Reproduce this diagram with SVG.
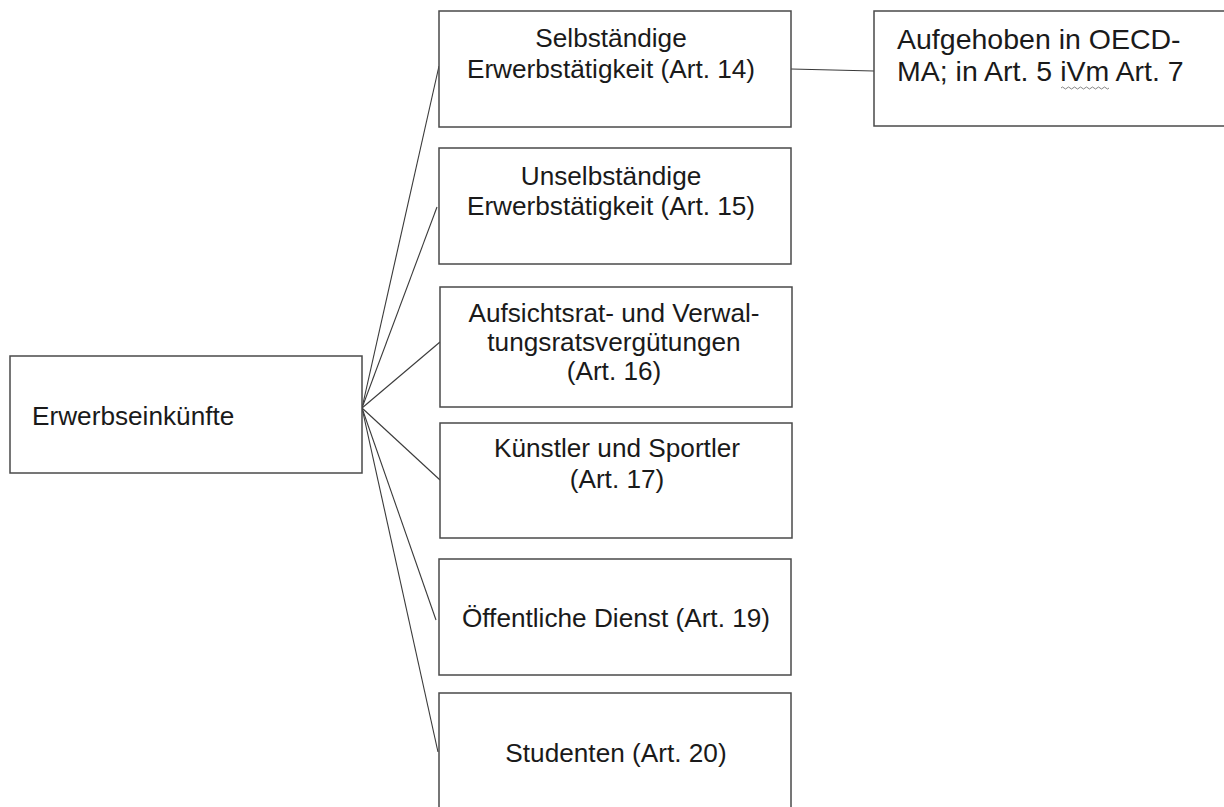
<svg xmlns="http://www.w3.org/2000/svg" width="1224" height="807" viewBox="0 0 1224 807">
<style>
  .box { fill: #ffffff; stroke: #4a4a4a; stroke-width: 1.5; }
  .conn { stroke: #3a3a3a; stroke-width: 1.1; fill: none; }
  .t { font-family: "Liberation Sans", Arial, sans-serif; font-size: 26.2px; fill: #1a1a1a; }
  .c { text-anchor: middle; }
  .big { font-size: 28.5px; }
</style>
<rect width="1224" height="807" fill="#ffffff"/>
<g id="connectors">
  <line class="conn" x1="362" y1="408" x2="439" y2="66"/>
  <line class="conn" x1="362" y1="408" x2="437" y2="207"/>
  <line class="conn" x1="362" y1="408" x2="440" y2="342"/>
  <line class="conn" x1="362" y1="408" x2="440" y2="480"/>
  <line class="conn" x1="362" y1="408" x2="436" y2="620"/>
  <line class="conn" x1="362" y1="408" x2="438" y2="752"/>
  <line class="conn" x1="791" y1="69" x2="874" y2="71"/>
</g>
<g id="n-erwerbseinkuenfte">
  <rect class="box" x="10" y="356" width="352" height="117"/>
  <text class="t" x="32" y="425">Erwerbseinkünfte</text>
</g>
<g id="n-art14">
  <rect class="box" x="439" y="11" width="352" height="116"/>
  <text class="t c" x="611" y="46.5">Selbständige</text>
  <text class="t c" x="611" y="77.5">Erwerbstätigkeit (Art. 14)</text>
</g>
<g id="n-oecd">
  <rect class="box" x="874" y="11" width="370" height="115"/>
  <text class="t big" x="897" y="49">Aufgehoben in OECD-</text>
  <text class="t big" x="897" y="81">MA; in Art. 5 iVm Art. 7</text>
  <path d="M1061 88 q1.5 -2 3 0 t3 0 t3 0 t3 0 t3 0 t3 0 t3 0 t3 0 t3 0 t3 0 t3 0 t3 0 t3 0 t3 0 t3 0 t3 0" fill="none" stroke="#777" stroke-width="0.9"/>
</g>
<g id="n-art15">
  <rect class="box" x="439" y="148" width="352" height="116"/>
  <text class="t c" x="611" y="185">Unselbständige</text>
  <text class="t c" x="611" y="215">Erwerbstätigkeit (Art. 15)</text>
</g>
<g id="n-art16">
  <rect class="box" x="440" y="287" width="352" height="120"/>
  <text class="t c" x="614" y="321.5">Aufsichtsrat- und Verwal-</text>
  <text class="t c" x="614" y="350.5">tungsratsvergütungen</text>
  <text class="t c" x="614" y="379.5">(Art. 16)</text>
</g>
<g id="n-art17">
  <rect class="box" x="440" y="423" width="352" height="115"/>
  <text class="t c" x="617" y="457">Künstler und Sportler</text>
  <text class="t c" x="617" y="488">(Art. 17)</text>
</g>
<g id="n-art19">
  <rect class="box" x="439" y="559" width="352" height="116"/>
  <text class="t c" x="616" y="627">Öffentliche Dienst (Art. 19)</text>
</g>
<g id="n-art20">
  <rect class="box" x="439" y="693" width="352" height="130"/>
  <text class="t c" x="616" y="762">Studenten (Art. 20)</text>
</g>
</svg>
